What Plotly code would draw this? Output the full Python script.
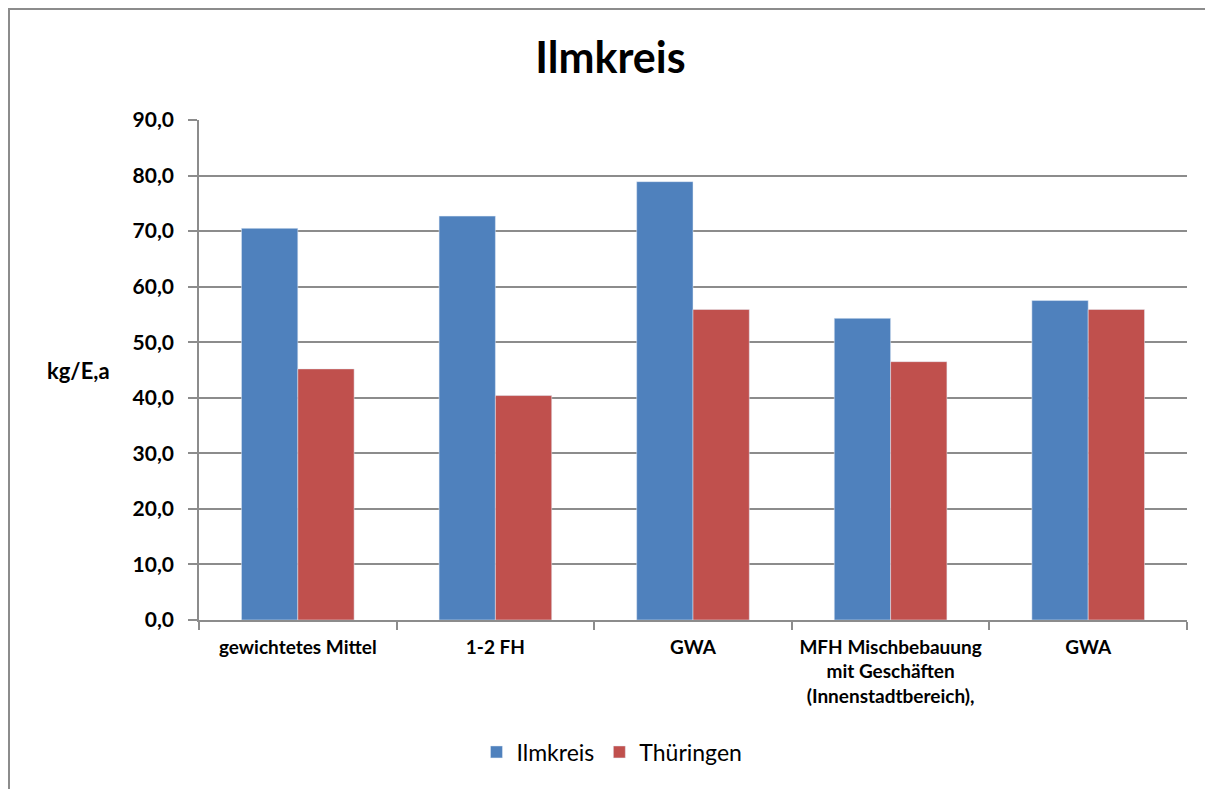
import plotly.graph_objects as go

categories = ["gewichtetes Mittel", "1-2 FH", "GWA",
              "MFH Mischbebauung<br>mit Geschäften<br>(Innenstadtbereich),", "GWA"]
ilmkreis = [70.5, 72.7, 78.9, 54.3, 57.5]
thueringen = [45.2, 40.4, 55.9, 46.5, 55.9]
y_ticks = [0, 10, 20, 30, 40, 50, 60, 70, 80, 90]
y_labels = ["0,0", "10,0", "20,0", "30,0", "40,0", "50,0", "60,0", "70,0", "80,0", "90,0"]

pos = list(range(len(categories)))
font = "Lato, 'Open Sans', sans-serif"
grid = "#8c8c8c"

fig = go.Figure()
fig.add_trace(go.Bar(x=pos, y=ilmkreis, name="Ilmkreis", marker_color="#4f81bd"))
fig.add_trace(go.Bar(x=pos, y=thueringen, name="Thüringen", marker_color="#c0504d"))

# page body has an 8px margin, so the figure is shrunk by 8px
fig.update_layout(
    width=1205, height=781,
    margin=dict(l=191, r=26, t=112, b=169),
    paper_bgcolor="white", plot_bgcolor="white",
    font=dict(family=font, color="black"),
    barmode="group", bargap=0.43, bargroupgap=0,
    title=dict(text="<b>Ilmkreis</b>", x=0.5, xref="container", xanchor="center",
               y=0.936, yref="container", yanchor="middle",
               font=dict(size=43, family=font)),
    legend=dict(orientation="h", x=0.418, xanchor="center", y=-0.264, yanchor="middle",
                font=dict(size=23, family=font), traceorder="normal"),
    showlegend=True,
)

fig.update_xaxes(
    range=[-0.5, 4.5], tickvals=pos, ticktext=["<b>%s</b>" % c for c in categories],
    ticks="", tickfont=dict(size=19), ticklabelstandoff=9,
    showline=True, linecolor=grid, linewidth=1.5, showgrid=False, zeroline=False,
    minor=dict(tickvals=[-0.5, 0.5, 1.5, 2.5, 3.5, 4.5], ticks="outside",
               ticklen=8, tickcolor=grid, tickwidth=1.5, showgrid=False),
)
fig.update_yaxes(
    range=[0, 90], tickvals=y_ticks, ticktext=["<b>%s</b>" % t for t in y_labels],
    ticks="outside", ticklen=9, tickcolor=grid, tickwidth=1.5,
    tickfont=dict(size=21), ticklabelstandoff=10,
    showline=True, linecolor=grid, linewidth=1.5,
    showgrid=True, gridcolor=grid, gridwidth=1.5, zeroline=False,
)

fig.add_annotation(text="<b>kg/E,a</b>", xref="paper", yref="paper", x=-0.1215, y=0.5,
                   xanchor="center", yanchor="middle", showarrow=False, font=dict(size=22))

# chart frame
fig.add_shape(type="rect", xref="paper", yref="paper",
              x0=-0.1923, x1=1.2, y0=-0.5, y1=1.222,
              line=dict(color="#8c8c8c", width=2), layer="below")

fig.write_html("out.html")
